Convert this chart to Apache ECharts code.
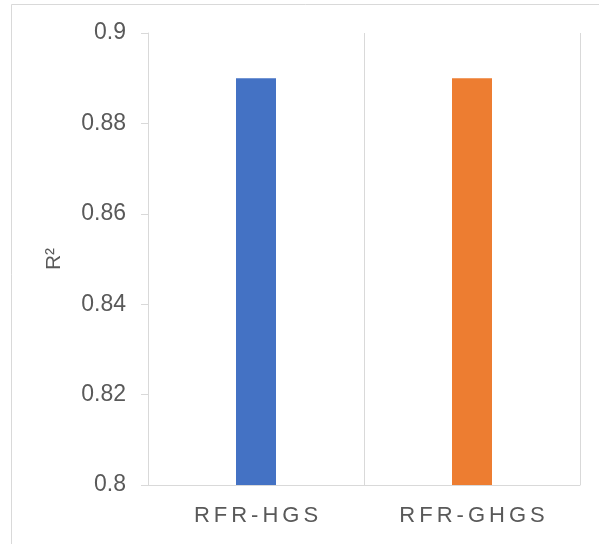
<!DOCTYPE html>
<html>
<head>
<meta charset="utf-8">
<script src="https://cdn.jsdelivr.net/npm/echarts@6/dist/echarts.min.js"></script>
<style>
  html, body { margin: 0; padding: 0; background: #ffffff; }
  #chart { width: 599px; height: 544px; }
</style>
</head>
<body>
<div id="chart"></div>
<script>
// Model names and their R² scores
const categories = ['RFR-HGS', 'RFR-GHGS'];
const r2Values = [0.89, 0.89];
const barColors = ['#4472C4', '#ED7D31'];
const yTicks = [0.8, 0.82, 0.84, 0.86, 0.88, 0.9];

const chart = echarts.init(document.getElementById('chart'), null, { renderer: 'canvas' });

// Each letter becomes its own rich token so the labels get letter spacing
const spaced = s => s.split('').map(ch => '{c|' + ch + '}').join('');

const FONT = 'Liberation Sans, Arial, sans-serif';

chart.setOption({
  animation: false,
  backgroundColor: '#ffffff',
  graphic: [{
    type: 'rect',
    shape: { x: 11.5, y: 4.5, width: 700, height: 700 },
    style: { fill: 'none', stroke: '#d9d9d9', lineWidth: 1 },
    silent: true
  }],
  grid: { left: 148, right: 19, top: 33, bottom: 59 },
  xAxis: {
    type: 'category',
    data: categories,
    axisLine: { show: true, lineStyle: { color: '#d9d9d9', width: 1 } },
    axisTick: { show: false },
    splitLine: { show: true, lineStyle: { color: '#d9d9d9', width: 1 } },
    axisLabel: {
      interval: 0,
      hideOverlap: false,
      color: '#595959',
      fontFamily: FONT,
      fontSize: 22,
      margin: 20,
      formatter: v => spaced(v),
      rich: {
        c: {
          color: '#595959',
          fontFamily: FONT,
          fontSize: 22,
          padding: [0, 2, 0, 2]
        }
      }
    }
  },
  yAxis: {
    type: 'value',
    min: yTicks[0],
    max: yTicks[yTicks.length - 1],
    interval: 0.02,
    name: 'R²',
    nameLocation: 'middle',
    nameGap: 83,
    nameRotate: 90,
    nameTextStyle: {
      color: '#595959',
      fontFamily: FONT,
      fontSize: 21
    },
    axisLine: { show: true, lineStyle: { color: '#d9d9d9', width: 1 } },
    axisTick: { show: true, length: 7, lineStyle: { color: '#d9d9d9' } },
    splitLine: { show: false },
    axisLabel: {
      color: '#595959',
      fontFamily: FONT,
      fontSize: 23,
      margin: 22,
      formatter: v => String(+v.toFixed(2))
    }
  },
  series: [{
    type: 'bar',
    barWidth: 40,
    data: r2Values.map((v, i) => ({ value: v, itemStyle: { color: barColors[i] } }))
  }]
});
</script>
</body>
</html>
